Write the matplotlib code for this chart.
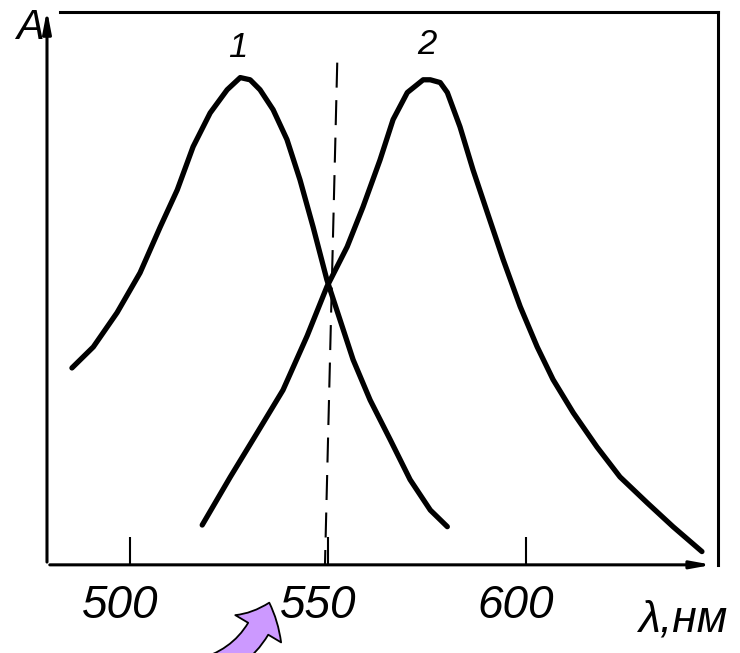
import matplotlib.pyplot as plt
from matplotlib.patches import FancyArrowPatch
from matplotlib.transforms import ScaledTranslation

# absorption spectra (wavelength, nm / relative A)
wl_1 = [485.3, 490.7, 496.7, 502.5, 507.6, 511.9, 515.9, 520.2, 524.5, 527.8,
        530.3, 532.8, 536.1, 539.6, 542.9, 546.2, 549.7, 553.0, 556.3, 560.6,
        565.7, 570.7, 575.8, 580.1]
abs_1 = [0.356, 0.394, 0.456, 0.528, 0.611, 0.678, 0.756, 0.817, 0.859, 0.881,
         0.877, 0.859, 0.823, 0.769, 0.696, 0.611, 0.515, 0.443, 0.371, 0.298,
         0.226, 0.154, 0.099, 0.069]

wl_2 = [518.2, 525.3, 532.1, 538.6, 544.7, 549.7, 554.8, 558.8, 563.1, 566.4,
        570.0, 574.0, 575.8, 578.3, 580.1, 583.3, 586.6, 590.2, 594.2, 598.5,
        602.8, 606.8, 611.9, 617.9, 623.7, 630.6, 637.1, 644.4]
abs_2 = [0.072, 0.159, 0.239, 0.316, 0.414, 0.503, 0.575, 0.647, 0.732, 0.805,
         0.854, 0.877, 0.877, 0.872, 0.854, 0.792, 0.714, 0.637, 0.552, 0.467,
         0.394, 0.335, 0.275, 0.213, 0.159, 0.112, 0.069, 0.024]

# dashed marker line through the crossing point
cross_wl = [552.3, 549.2]
cross_abs = [0.908, 0.0]

tick_vals = [500, 550, 600]
tick_labels = ["500", "550", "600"]
curve_names = ["1", "2"]
label_pos = [(527.2, 0.935), (575.0, 0.94)]

font = ["Liberation Sans", "DejaVu Sans"]

fig = plt.figure(figsize=(7.4, 6.53), dpi=100)
ax = fig.add_axes([0.0635, 0.135, 0.907, 0.847])
ax.set_xlim(479.0, 648.5)
ax.set_ylim(0, 1)

ax.plot(wl_1, abs_1, color="black", lw=3.8, solid_capstyle="round", solid_joinstyle="round")
ax.plot(wl_2, abs_2, color="black", lw=3.8, solid_capstyle="round", solid_joinstyle="round")
ax.plot(cross_wl, cross_abs, color="black", lw=1.5, linestyle=(0, (12, 6)))

for name, (x, y) in zip(curve_names, label_pos):
    ax.text(x, y, name, fontsize=25, family=font, style="italic", ha="center", va="center")

# frame: arrows for the two axes, plain lines for the rest
for s in ["left", "bottom"]:
    ax.spines[s].set_visible(False)
ax.spines["top"].set_linewidth(2.2)
ax.spines["right"].set_linewidth(2.2)
ax.spines["top"].set_bounds(482.3, 648.5)
ax.annotate("", xy=(0.0, 1.008), xytext=(0.0, 0.0), xycoords="axes fraction",
            arrowprops=dict(arrowstyle="-|>,head_length=1.3,head_width=0.25", color="black", lw=2.2))
ax.annotate("", xy=(0.995, 0.0), xytext=(0.0, 0.0), xycoords="axes fraction",
            arrowprops=dict(arrowstyle="-|>,head_length=1.2,head_width=0.22", color="black", lw=2.2))

ax.set_yticks([])
ax.set_xticks(tick_vals)
ax.set_xticklabels(tick_labels, fontsize=33, family=font, style="italic")
ax.tick_params(axis="x", direction="in", length=20, width=1.5, pad=14)
for lab in ax.get_xticklabels():
    lab.set_transform(lab.get_transform() + ScaledTranslation(-10 / 100, 0, fig.dpi_scale_trans))

fig.text(30 / 740, 1 - 28 / 653, "A", fontsize=30, family=font, style="italic",
         ha="center", va="center")
fig.text(683 / 740, 1 - 620 / 653, "λ,нм", fontsize=32, family=font, style="italic",
         ha="center", va="center")

arrow = FancyArrowPatch((196 / 740, 1 - 672 / 653), (270 / 740, 1 - 600 / 653),
                        transform=fig.transFigure, connectionstyle="arc3,rad=0.3",
                        arrowstyle="simple,head_length=0.85,head_width=1.6,tail_width=0.7",
                        mutation_scale=24, facecolor="#cc99ff", edgecolor="black", lw=1.3)
fig.patches.append(arrow)

fig.savefig("out.png", dpi=100)
